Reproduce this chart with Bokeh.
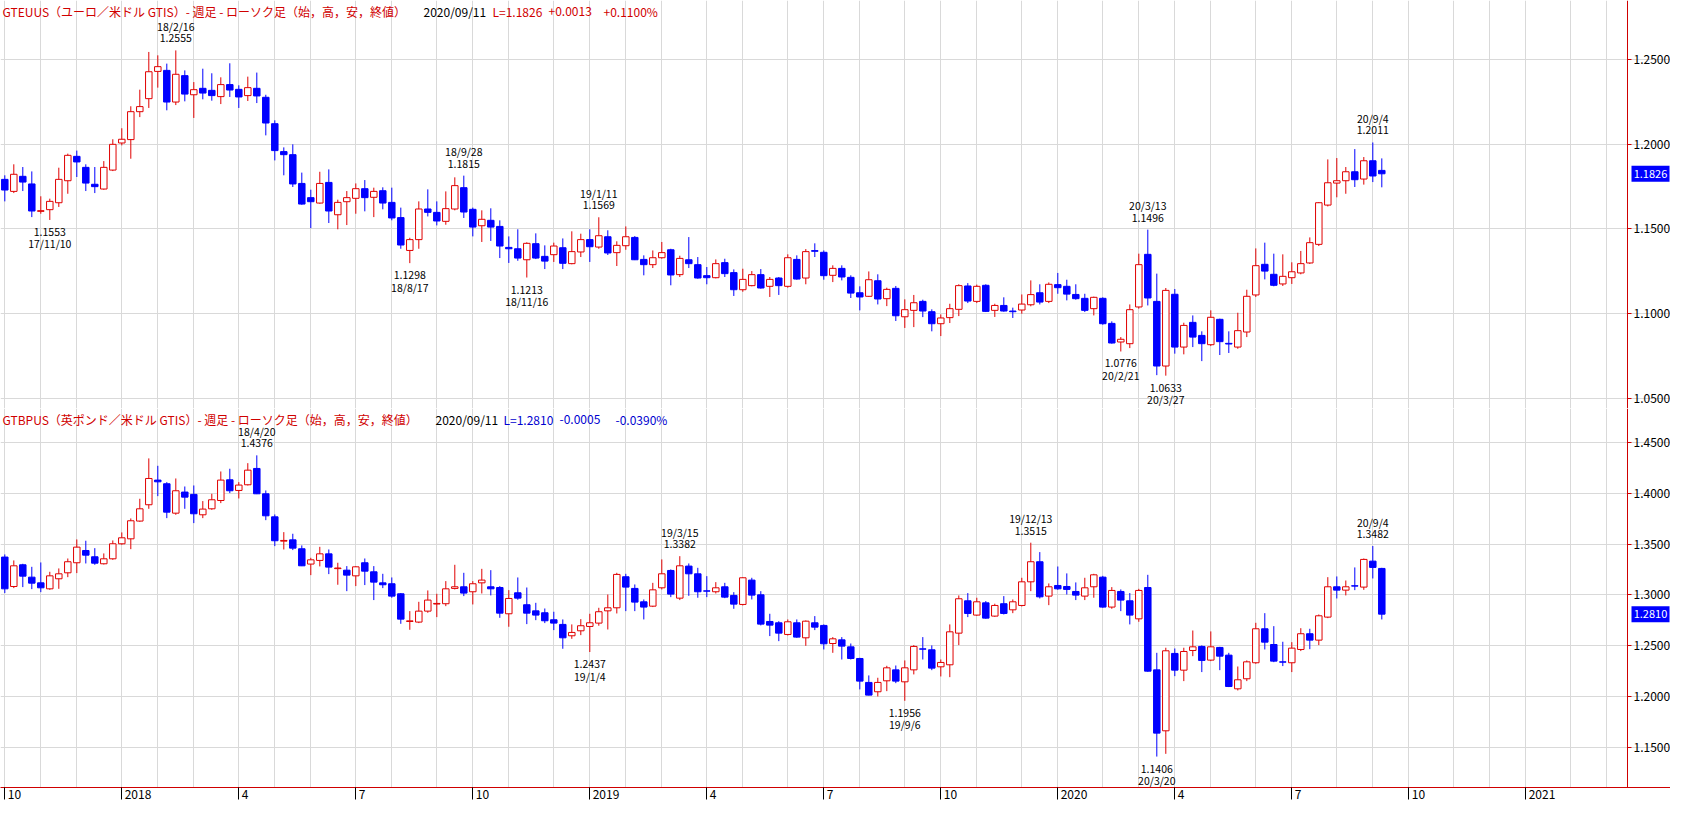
import datetime as dt
from bokeh.plotting import figure
from bokeh.layouts import column
from bokeh.models import (ColumnDataSource, FixedTicker, PrintfTickFormatter, Range1d, Label,
                          LinearAxis)
from bokeh.embed import file_html
from bokeh.resources import INLINE
from bokeh.core.properties import value

# ---------------- data (weekly candles, week ending Friday) ----------------
start_date = "2017-10-06"

eur_open = [1.1793,1.1722,1.1811,1.1766,1.1604,1.1614,1.1655,1.1785,1.1929,1.1864,1.1764,1.1736,1.1848,1.2008,1.2028,1.2193,1.2270,1.2431,1.2437,1.2250,
1.2406,1.2293,1.2331,1.2319,1.2282,1.2353,1.2325,1.2288,1.2331,1.2278,1.2122,1.1957,1.1939,1.1769,1.1685,1.1653,1.1775,1.1584,1.1661,1.1681,
1.1738,1.1687,1.1726,1.1657,1.1567,1.1373,1.1437,1.1618,1.1598,1.1545,1.1618,1.1744,1.1616,1.1519,1.1551,1.1515,1.1391,1.1383,1.1318,1.1413,
1.1338,1.1348,1.1389,1.1295,1.1364,1.1437,1.1393,1.1454,1.1360,1.1401,1.1450,1.1320,1.1289,1.1330,1.1377,1.1230,1.1318,1.1289,1.1224,1.1212,
1.1301,1.1242,1.1141,1.1165,1.1230,1.1161,1.1210,1.1161,1.1320,1.1210,1.1372,1.1362,1.1226,1.1267,1.1214,1.1123,1.1102,1.1194,1.1088,1.1149,
1.0981,1.1019,1.1072,1.1011,1.0940,1.0976,1.1025,1.1163,1.1072,1.1167,1.1019,1.1048,1.1015,1.1021,1.1052,1.1123,1.1072,1.1171,1.1161,1.1113,
1.1090,1.1029,1.1090,1.0942,1.0832,1.0822,1.1039,1.1350,1.1072,1.0690,1.1114,1.0802,1.0948,1.0871,1.0816,1.0966,1.0824,1.0802,1.0891,1.1110,
1.1291,1.1232,1.1175,1.1212,1.1240,1.1299,1.1409,1.1641,1.1771,1.1785,1.1838,1.1795,1.1903,1.1846]
eur_high = [1.1817,1.1882,1.1866,1.1840,1.1693,1.1679,1.1862,1.1945,1.1963,1.1882,1.1866,1.1901,1.2030,1.2095,1.2225,1.2323,1.2546,1.2526,1.2477,1.2555,
1.2437,1.2368,1.2447,1.2420,1.2396,1.2479,1.2349,1.2400,1.2424,1.2293,1.2142,1.1982,1.2000,1.1833,1.1732,1.1838,1.1852,1.1673,1.1724,1.1769,
1.1789,1.1744,1.1746,1.1744,1.1626,1.1448,1.1663,1.1734,1.1663,1.1722,1.1805,1.1815,1.1626,1.1610,1.1622,1.1551,1.1456,1.1498,1.1421,1.1474,
1.1403,1.1419,1.1444,1.1486,1.1472,1.1498,1.1569,1.1492,1.1427,1.1515,1.1458,1.1344,1.1373,1.1423,1.1383,1.1342,1.1452,1.1334,1.1275,1.1320,
1.1324,1.1261,1.1265,1.1251,1.1263,1.1216,1.1216,1.1350,1.1344,1.1381,1.1415,1.1373,1.1285,1.1285,1.1226,1.1161,1.1249,1.1232,1.1153,1.1163,
1.1084,1.1110,1.1082,1.1025,1.0995,1.1058,1.1173,1.1180,1.1171,1.1173,1.1058,1.1096,1.1035,1.1113,1.1196,1.1173,1.1184,1.1240,1.1200,1.1173,
1.1117,1.1100,1.1096,1.0954,1.0861,1.1054,1.1354,1.1496,1.1236,1.1151,1.1145,1.0946,1.0989,1.0895,1.1019,1.0970,1.0895,1.1005,1.1141,1.1385,
1.1419,1.1354,1.1350,1.1303,1.1370,1.1450,1.1659,1.1911,1.1919,1.1866,1.1972,1.1925,1.2011,1.1917]
eur_low = [1.1663,1.1712,1.1724,1.1570,1.1590,1.1553,1.1630,1.1708,1.1807,1.1724,1.1712,1.1732,1.1842,1.1994,1.1915,1.2161,1.2215,1.2335,1.2201,1.2232,
1.2254,1.2156,1.2266,1.2258,1.2238,1.2280,1.2215,1.2256,1.2244,1.2053,1.1905,1.1817,1.1748,1.1643,1.1505,1.1649,1.1535,1.1498,1.1523,1.1590,
1.1604,1.1570,1.1616,1.1551,1.1383,1.1298,1.1383,1.1574,1.1521,1.1525,1.1610,1.1565,1.1456,1.1423,1.1429,1.1328,1.1299,1.1312,1.1213,1.1322,
1.1263,1.1305,1.1263,1.1291,1.1334,1.1305,1.1383,1.1346,1.1281,1.1377,1.1316,1.1226,1.1269,1.1324,1.1167,1.1216,1.1269,1.1206,1.1173,1.1208,
1.1216,1.1104,1.1129,1.1161,1.1147,1.1098,1.1110,1.1153,1.1200,1.1173,1.1334,1.1200,1.1186,1.1196,1.1092,1.1019,1.1098,1.1054,1.1044,1.0956,
1.0915,1.0920,1.0979,1.0895,1.0867,1.0944,1.0985,1.1062,1.1062,1.1009,1.0980,1.1011,1.0974,1.0999,1.1043,1.1054,1.1062,1.1117,1.1078,1.1082,
1.1009,1.0989,1.0934,1.0822,1.0776,1.0796,1.1029,1.1048,1.0636,1.0633,1.0763,1.0759,1.0802,1.0719,1.0808,1.0755,1.0767,1.0792,1.0861,1.1098,
1.1202,1.1161,1.1163,1.1175,1.1232,1.1293,1.1399,1.1633,1.1687,1.1708,1.1748,1.1762,1.1777,1.1746]
eur_close = [1.1730,1.1823,1.1777,1.1606,1.1608,1.1663,1.1793,1.1935,1.1896,1.1771,1.1750,1.1864,1.2000,1.2030,1.2193,1.2223,1.2429,1.2459,1.2250,1.2414,
1.2297,1.2323,1.2303,1.2288,1.2353,1.2321,1.2280,1.2335,1.2286,1.2126,1.1963,1.1939,1.1766,1.1647,1.1661,1.1769,1.1606,1.1657,1.1685,1.1738,
1.1685,1.1722,1.1653,1.1565,1.1405,1.1437,1.1618,1.1598,1.1547,1.1620,1.1756,1.1600,1.1511,1.1557,1.1511,1.1399,1.1383,1.1328,1.1415,1.1328,
1.1310,1.1399,1.1297,1.1366,1.1437,1.1395,1.1460,1.1358,1.1403,1.1454,1.1318,1.1289,1.1330,1.1360,1.1228,1.1326,1.1295,1.1210,1.1212,1.1295,
1.1236,1.1141,1.1202,1.1230,1.1151,1.1202,1.1165,1.1330,1.1204,1.1366,1.1368,1.1224,1.1267,1.1216,1.1121,1.1098,1.1200,1.1086,1.1143,1.0987,
1.1023,1.1064,1.1015,1.0940,1.0974,1.1029,1.1165,1.1074,1.1161,1.1013,1.1048,1.1015,1.1011,1.1056,1.1112,1.1068,1.1173,1.1153,1.1115,1.1088,
1.1019,1.1096,1.0940,1.0826,1.0848,1.1023,1.1289,1.1092,1.0690,1.1137,1.0802,1.0930,1.0861,1.0822,1.0978,1.0834,1.0820,1.0899,1.1102,1.1283,
1.1251,1.1167,1.1220,1.1247,1.1295,1.1419,1.1655,1.1773,1.1785,1.1838,1.1791,1.1903,1.1813,1.1826]

gbp_open = [1.3373,1.3083,1.3297,1.3175,1.3119,1.3060,1.3159,1.3218,1.3317,1.3438,1.3376,1.3307,1.3356,1.3504,1.3553,1.3728,1.3889,1.4132,1.4096,1.3806,
1.4014,1.3991,1.3790,1.3849,1.3931,1.4135,1.4030,1.4086,1.4247,1.3997,1.3770,1.3530,1.3543,1.3455,1.3304,1.3340,1.3405,1.3259,1.3244,1.3188,
1.3317,1.3228,1.3119,1.3110,1.3011,1.2738,1.2732,1.2840,1.2910,1.2913,1.3064,1.3080,1.3031,1.3119,1.3080,1.3073,1.2814,1.3021,1.2903,1.2843,
1.2824,1.2755,1.2709,1.2597,1.2646,1.2689,1.2722,1.2843,1.2873,1.3179,1.3064,1.2932,1.2889,1.3070,1.3241,1.2968,1.3284,1.3208,1.3040,1.3031,
1.3080,1.2995,1.2906,1.3146,1.3001,1.2738,1.2725,1.2610,1.2725,1.2577,1.2725,1.2699,1.2521,1.2557,1.2488,1.2373,1.2137,1.2045,1.2153,1.2261,
1.2143,1.2261,1.2468,1.2459,1.2291,1.2311,1.2623,1.2942,1.2801,1.2922,1.2791,1.2913,1.2853,1.2896,1.3129,1.3327,1.2988,1.3093,1.3083,1.3034,
1.2988,1.3080,1.3175,1.2880,1.3034,1.2942,1.2764,1.3073,1.2261,1.1660,1.2423,1.2258,1.2452,1.2492,1.2357,1.2482,1.2406,1.2074,1.2173,1.2331,
1.2666,1.2511,1.2340,1.2331,1.2462,1.2617,1.2554,1.2781,1.3080,1.3047,1.3090,1.3077,1.3333,1.3261]
gbp_high = [1.3399,1.3340,1.3307,1.3277,1.3320,1.3228,1.3261,1.3359,1.3547,1.3534,1.3461,1.3409,1.3537,1.3616,1.3754,1.3948,1.4346,1.4273,1.4112,1.4148,
1.4069,1.4079,1.3925,1.3997,1.4217,1.4244,1.4112,1.4299,1.4376,1.4030,1.3793,1.3619,1.3603,1.3488,1.3366,1.3474,1.3448,1.3317,1.3284,1.3284,
1.3359,1.3284,1.3208,1.3172,1.3018,1.2840,1.2932,1.3044,1.3011,1.3136,1.3297,1.3218,1.3136,1.3257,1.3244,1.3087,1.3047,1.3172,1.3073,1.2922,
1.2866,1.2834,1.2758,1.2709,1.2761,1.2814,1.2873,1.3004,1.3218,1.3208,1.3103,1.2955,1.3119,1.3350,1.3251,1.3382,1.3310,1.3267,1.3185,1.3126,
1.3119,1.3027,1.3175,1.3169,1.3037,1.2814,1.2741,1.2758,1.2758,1.2748,1.2791,1.2709,1.2584,1.2584,1.2521,1.2380,1.2206,1.2183,1.2301,1.2304,
1.2354,1.2505,1.2584,1.2502,1.2363,1.2709,1.2995,1.3018,1.2972,1.2939,1.2913,1.2988,1.2955,1.3169,1.3515,1.3422,1.3113,1.3280,1.3212,1.3123,
1.3169,1.3208,1.3188,1.3077,1.3054,1.3018,1.3060,1.3198,1.2429,1.2479,1.2472,1.2479,1.2649,1.2502,1.2640,1.2488,1.2429,1.2294,1.2354,1.2725,
1.2820,1.2692,1.2538,1.2534,1.2672,1.2666,1.2807,1.3175,1.3182,1.3142,1.3271,1.3359,1.3482,1.3267]
gbp_low = [1.3018,1.3067,1.3077,1.3057,1.3027,1.3050,1.3060,1.3175,1.3215,1.3310,1.3297,1.3300,1.3346,1.3494,1.3451,1.3721,1.3849,1.3974,1.3757,1.3790,
1.3849,1.3708,1.3757,1.3839,1.3905,1.4004,1.3951,1.4079,1.3994,1.3737,1.3481,1.3448,1.3442,1.3284,1.3195,1.3281,1.3205,1.3100,1.3037,1.3087,
1.3097,1.2949,1.3067,1.2972,1.2715,1.2656,1.2722,1.2824,1.2781,1.2889,1.3054,1.2988,1.2906,1.3014,1.2995,1.2774,1.2686,1.2952,1.2712,1.2751,
1.2722,1.2653,1.2469,1.2567,1.2603,1.2437,1.2696,1.2659,1.2817,1.2840,1.2840,1.2758,1.2880,1.3054,1.2978,1.2949,1.2991,1.2972,1.2978,1.3014,
1.2968,1.2863,1.2896,1.2955,1.2699,1.2594,1.2544,1.2600,1.2577,1.2498,1.2653,1.2462,1.2429,1.2363,1.2363,1.2068,1.2009,1.1999,1.2051,1.2130,
1.1956,1.2216,1.2363,1.2258,1.2196,1.2189,1.2505,1.2781,1.2794,1.2765,1.2784,1.2807,1.2820,1.2886,1.3037,1.2965,1.2899,1.3050,1.3004,1.2949,
1.2949,1.2972,1.2873,1.2863,1.2840,1.2709,1.2735,1.2242,1.1406,1.1433,1.2199,1.2150,1.2396,1.2239,1.2347,1.2258,1.2091,1.2058,1.2150,1.2321,
1.2462,1.2337,1.2298,1.2239,1.2446,1.2465,1.2505,1.2771,1.2965,1.2995,1.3047,1.3050,1.3162,1.2758]
gbp_close = [1.3060,1.3287,1.3185,1.3116,1.3070,1.3188,1.3208,1.3327,1.3471,1.3392,1.3313,1.3356,1.3504,1.3563,1.3731,1.3849,1.4148,1.4115,1.3816,1.4027,
1.3964,1.3800,1.3846,1.3938,1.4132,1.4027,1.4083,1.4230,1.3997,1.3780,1.3534,1.3537,1.3461,1.3287,1.3346,1.3405,1.3274,1.3265,1.3195,1.3277,
1.3234,1.3126,1.3100,1.2988,1.2761,1.2744,1.2840,1.2949,1.2916,1.3060,1.3080,1.3018,1.3110,1.3146,1.3060,1.2820,1.2965,1.2968,1.2820,1.2801,
1.2745,1.2722,1.2577,1.2630,1.2696,1.2725,1.2834,1.2873,1.3202,1.3077,1.2929,1.2880,1.3050,1.3208,1.3008,1.3287,1.3208,1.3031,1.3037,1.3070,
1.2978,1.2909,1.3169,1.2998,1.2712,1.2702,1.2623,1.2735,1.2584,1.2741,1.2682,1.2518,1.2567,1.2495,1.2373,1.2150,1.2012,1.2137,1.2281,1.2150,
1.2281,1.2492,1.2465,1.2278,1.2334,1.2636,1.2962,1.2817,1.2932,1.2771,1.2896,1.2817,1.2932,1.3129,1.3327,1.2981,1.3080,1.3060,1.3054,1.2998,
1.3070,1.3198,1.2880,1.3044,1.2949,1.2801,1.3044,1.2248,1.1637,1.2449,1.2258,1.2442,1.2488,1.2354,1.2488,1.2396,1.2097,1.2163,1.2340,1.2666,
1.2534,1.2347,1.2337,1.2475,1.2617,1.2554,1.2794,1.3080,1.3047,1.3080,1.3087,1.3350,1.3271,1.2810]

# marked highs / lows: (week index, kind)
eur_marks = [(5, "low"), (19, "high"), (45, "low"), (51, "high"), (58, "low"), (66, "high"),
             (124, "low"), (127, "high"), (129, "low"), (152, "high")]
gbp_marks = [(28, "high"), (65, "low"), (75, "high"), (100, "low"), (114, "high"), (128, "low"), (152, "high")]

eur_ticks = [1.05, 1.10, 1.15, 1.20, 1.25]
gbp_ticks = [1.15, 1.20, 1.25, 1.30, 1.35, 1.40, 1.45]
eur_yrange = (1.0439, 1.2850)
gbp_yrange = (1.1101, 1.4838)

quarter_months = [(2017, 10), (2018, 1), (2018, 4), (2018, 7), (2018, 10), (2019, 1), (2019, 4),
                  (2019, 7), (2019, 10), (2020, 1), (2020, 4), (2020, 7), (2020, 10), (2021, 1)]
quarter_labels = ["10", "2018", "4", "7", "10", "2019", "4", "7", "10", "2020", "4", "7", "10", "2021"]

eur_header = [("GTEUUS（ユーロ／米ドル GTIS）- 週足 - ローソク足（始，高，安，終値）", "#d00000", 2),
              ("2020/09/11", "#000000", 423), ("L=1.1826", "#d00000", 492),
              ("+0.0013", "#d00000", 548), ("+0.1100%", "#d00000", 603)]
gbp_header = [("GTBPUS（英ポンド／米ドル GTIS）- 週足 - ローソク足（始，高，安，終値）", "#d00000", 2),
              ("2020/09/11", "#000000", 435), ("L=1.2810", "#0000d0", 503),
              ("-0.0005", "#0000d0", 559), ("-0.0390%", "#0000d0", 615)]

# ---------------- layout / style ----------------
UP = "#e00000"
DN = "#0000ff"
GRID = "#d9d9d9"
AXRED = "#d00000"
FONT = "Noto Sans CJK JP"
FW = 1670                      # frame spans the full width; price axis sits inside it
PXU = 9.0                      # pixels per week
X_START = -0.478
X_END = X_START + FW / PXU
X_AX = X_START + 1627 / PXU    # location of the price axis line
X_TAG = X_START + 1650 / PXU   # centre of the last-price tag

START = dt.date.fromisoformat(start_date)
N = len(eur_open)
dates = [START + dt.timedelta(weeks=i) for i in range(N)]


def first_friday(y, m):
    d = dt.date(y, m, 1)
    return d + dt.timedelta(days=(4 - d.weekday()) % 7)


def week_pos(d):
    return (d - START).days / 7.0


months = []
y, m = 2017, 10
while (y, m) <= (2021, 5):
    months.append((y, m))
    m += 1
    if m > 12:
        y, m = y + 1, 1
grid_k = [week_pos(first_friday(a, b)) for a, b in months]
grid_k = [k for k in grid_k if X_START <= k <= X_AX - 1]
quarter_k = [week_pos(first_friday(a, b)) for a, b in quarter_months]

xr = Range1d(X_START, X_END)


def make_panel(fh, yrange, yticks, o, h, l, c, marks, header, last):
    p = figure(frame_width=FW, frame_height=fh, x_range=xr, y_range=Range1d(*yrange),
               x_axis_location="below", y_axis_location=None,
               output_backend="svg", toolbar_location=None, tools="",
               min_border_left=0, min_border_top=0, min_border_bottom=0, min_border_right=0,
               background_fill_color="white", border_fill_color="white")
    p.outline_line_color = None
    p.xgrid.ticker = FixedTicker(ticks=grid_k)
    p.xgrid.grid_line_color = GRID
    p.ygrid.ticker = FixedTicker(ticks=yticks)
    p.ygrid.grid_line_color = GRID
    p.ygrid.bounds = (X_START, X_AX)

    ax = LinearAxis(fixed_location=X_AX, ticker=FixedTicker(ticks=yticks),
                    formatter=PrintfTickFormatter(format="%.4f"))
    ax.axis_line_color = AXRED
    ax.major_tick_line_color = AXRED
    ax.major_tick_out = 4
    ax.major_tick_in = 0
    ax.minor_tick_line_color = None
    ax.major_label_standoff = 2
    ax.major_label_text_font = FONT
    ax.major_label_text_font_size = "12px"
    ax.major_label_text_color = "#000000"
    p.add_layout(ax, "right")

    up = [cc >= oo for oo, cc in zip(o, c)]
    src = ColumnDataSource(dict(
        x=list(range(len(o))), high=h, low=l,
        top=[max(a, b) for a, b in zip(o, c)], bottom=[min(a, b) for a, b in zip(o, c)],
        line=[UP if u else DN for u in up], fill=["white" if u else DN for u in up]))
    p.segment(x0="x", y0="high", x1="x", y1="low", line_color="line", line_width=1, source=src)
    p.vbar(x="x", width=0.72, top="top", bottom="bottom", fill_color="fill",
           line_color="line", line_width=1, source=src)

    xs, ys, ts, offs = [], [], [], []
    for k, kind in marks:
        d = dates[k]
        ds = f"{d.year % 100}/{d.month}/{d.day}"
        v = h[k] if kind == "high" else l[k]
        vs = f"{v:.4f}"
        pairs = [(vs, -12), (ds, -24)] if kind == "high" else [(vs, 12), (ds, 24)]
        for t, off in pairs:
            xs.append(k); ys.append(v); ts.append(t); offs.append(off)
    asrc = ColumnDataSource(dict(x=xs, y=ys, text=ts, yoff=offs))
    p.text(x="x", y="y", text="text", y_offset="yoff", source=asrc,
           text_font=value(FONT), text_font_size="10.5px", text_color="#000000",
           text_align="center", text_baseline="middle")

    for txt, col, xpos in header:
        p.add_layout(Label(x=xpos, y=fh - 11, x_units="screen", y_units="screen", text=txt,
                           text_color=col, text_font=FONT, text_font_size="12px",
                           text_baseline="middle", text_align="left"))

    # last-price tag on the price axis
    tsrc = ColumnDataSource(dict(x=[X_TAG], y=[last], text=[f"{last:.4f}"]))
    p.rect(x="x", y="y", width=38, height=16, width_units="screen", height_units="screen",
           fill_color=DN, line_color=None, source=tsrc)
    p.text(x="x", y="y", text="text", source=tsrc, text_font=value(FONT),
           text_font_size="11px", text_color="white", text_align="center",
           text_baseline="middle")
    return p


top = make_panel(408, eur_yrange, eur_ticks, eur_open, eur_high, eur_low, eur_close,
                 eur_marks, eur_header, eur_close[-1])
bot = make_panel(379, gbp_yrange, gbp_ticks, gbp_open, gbp_high, gbp_low, gbp_close,
                 gbp_marks, gbp_header, gbp_close[-1])

# top panel: x axis only as the red separator line
xa = top.xaxis[0]
xa.ticker = FixedTicker(ticks=[])
xa.axis_line_color = AXRED
xa.major_tick_out = 0
xa.major_tick_in = 0
xa.minor_tick_line_color = None
xa.major_tick_line_color = None
xa.major_label_standoff = 0

# bottom panel: quarterly labels placed just right of their tick
label_pos = []
overrides = {}
for k, lab in zip(quarter_k, quarter_labels):
    cpos = round(k + (3 + len(lab) * 6.6 / 2) / PXU, 3)
    label_pos.append(cpos)
    overrides[cpos] = lab
xb = bot.xaxis[0]
xb.ticker = FixedTicker(ticks=label_pos, minor_ticks=quarter_k)
xb.major_label_overrides = overrides
xb.axis_line_color = AXRED
xb.major_tick_line_color = None
xb.major_tick_out = 12
xb.major_tick_in = 0
xb.minor_tick_line_color = "#000000"
xb.minor_tick_out = 12
xb.minor_tick_in = 0
xb.major_label_standoff = -10
xb.major_label_text_font = FONT
xb.major_label_text_font_size = "12px"
xb.major_label_text_color = "#000000"

layout = column(top, bot, spacing=0)
open("out.html", "w").write(file_html(layout, INLINE))
